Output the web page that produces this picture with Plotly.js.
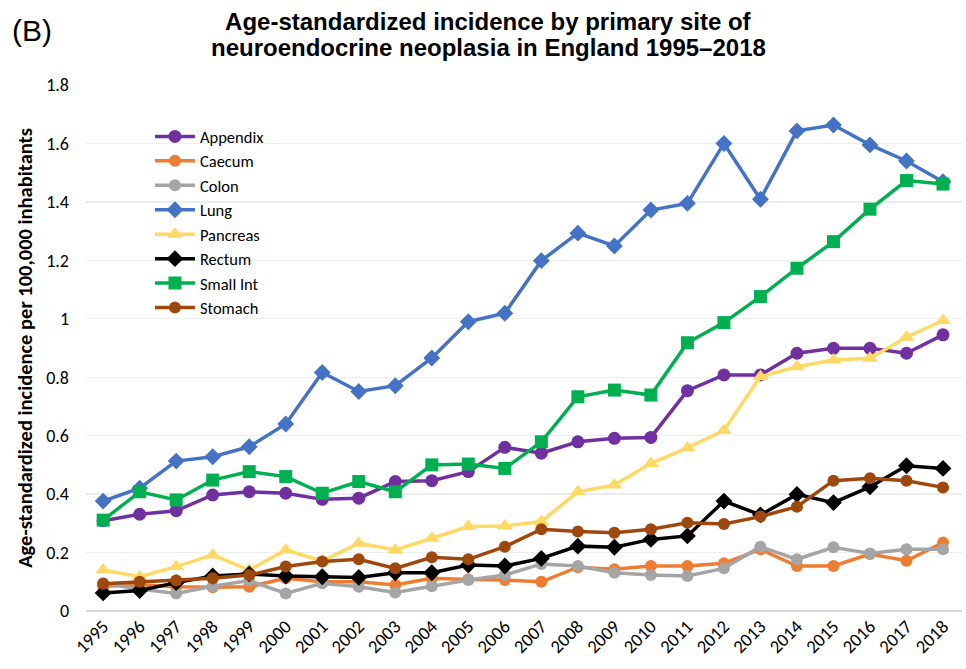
<!DOCTYPE html>
<html>
<head>
<meta charset="utf-8">
<script src="https://cdn.plot.ly/plotly-3.0.1.min.js"></script>
<style>html,body{margin:0;padding:0;background:#fff;}#chart{width:966px;height:669px;}</style>
</head>
<body>
<div id="chart"></div>
<script>
const years = [1995,1996,1997,1998,1999,2000,2001,2002,2003,2004,2005,2006,2007,2008,2009,2010,2011,2012,2013,2014,2015,2016,2017,2018];
const appendix = [0.309,0.331,0.343,0.397,0.408,0.403,0.382,0.386,0.443,0.446,0.477,0.56,0.54,0.579,0.591,0.594,0.754,0.808,0.808,0.882,0.899,0.899,0.882,0.945];
const caecum   = [0.085,0.09,0.083,0.081,0.083,0.112,0.1,0.1,0.089,0.112,0.108,0.106,0.1,0.15,0.143,0.154,0.154,0.163,0.211,0.154,0.154,0.195,0.172,0.234];
const colon    = [0.095,0.075,0.06,0.085,0.104,0.06,0.095,0.083,0.063,0.085,0.106,0.123,0.161,0.154,0.131,0.123,0.12,0.146,0.22,0.177,0.218,0.197,0.211,0.211];
const lung     = [0.376,0.42,0.513,0.528,0.562,0.64,0.816,0.751,0.771,0.866,0.99,1.019,1.199,1.293,1.249,1.372,1.395,1.6,1.409,1.643,1.663,1.595,1.54,1.469];
const pancreas = [0.14,0.117,0.152,0.192,0.14,0.209,0.171,0.232,0.209,0.249,0.289,0.291,0.306,0.408,0.431,0.505,0.558,0.618,0.802,0.836,0.859,0.865,0.937,0.994];
const rectum   = [0.062,0.07,0.097,0.12,0.127,0.12,0.117,0.115,0.131,0.131,0.157,0.154,0.18,0.222,0.218,0.245,0.257,0.376,0.329,0.399,0.371,0.425,0.497,0.488];
const smallInt = [0.311,0.408,0.38,0.448,0.477,0.46,0.403,0.443,0.408,0.5,0.503,0.488,0.579,0.733,0.756,0.739,0.918,0.987,1.076,1.173,1.264,1.375,1.473,1.461];
const stomach  = [0.093,0.1,0.104,0.112,0.123,0.152,0.169,0.177,0.146,0.184,0.177,0.22,0.28,0.272,0.268,0.28,0.302,0.298,0.323,0.357,0.446,0.454,0.446,0.423];

const names   = ['Appendix','Caecum','Colon','Lung','Pancreas','Rectum','Small Int','Stomach'];
const series  = [appendix, caecum, colon, lung, pancreas, rectum, smallInt, stomach];
const colors  = ['#7030A0','#ED7D31','#A5A5A5','#4472C4','#FFD966','#000000','#00B050','#9E480E'];
const symbols = ['circle','circle','circle','diamond','triangle-up','diamond','square','circle'];
const sizes   = [13,12,12,13,14,13,13,12];

const titleLine1 = 'Age-standardized incidence by primary site of';
const titleLine2 = 'neuroendocrine neoplasia in England 1995–2018';

const traces = names.map((n,i)=>({
  x: years, y: series[i], name: n, type: 'scatter', mode: 'lines+markers',
  line: {color: colors[i], width: 3.5},
  marker: {color: colors[i], symbol: symbols[i], size: sizes[i], line: {width: 0}}
}));

const font = 'Carlito, Lato, "Open Sans", sans-serif';
const titleFont = {family: '"Liberation Sans", Arial, sans-serif', size: 24, color: '#000'};
const layout = {
  width: 966, height: 669,
  margin: {l: 86, r: 4, t: 85, b: 58},
  paper_bgcolor: '#fff', plot_bgcolor: '#fff',
  title: {
    text: '<b>' + titleLine1 + '</b>',
    font: titleFont,
    x: 0.505, xanchor: 'center', y: 0.967, yanchor: 'middle'
  },
  showlegend: true,
  legend: {
    x: 0.073, y: 0.935, xanchor: 'left', yanchor: 'top',
    font: {family: font, size: 16.5, color: '#000'},
    bgcolor: 'rgba(255,255,255,0)', tracegroupgap: 0, itemwidth: 40
  },
  xaxis: {
    range: [1994.53, 2018.52], tickmode: 'array', tickvals: years,
    ticktext: years.map(String), tickangle: -45,
    tickfont: {family: font, size: 18.5, color: '#000'},
    showgrid: false, zeroline: false, showline: false, ticks: ''
  },
  yaxis: {
    range: [0, 1.8], dtick: 0.2, tick0: 0,
    tickfont: {family: font, size: 18, color: '#000'},
    gridcolor: '#EDEDED', gridwidth: 1.3,
    zeroline: true, zerolinecolor: '#D9D9D9', zerolinewidth: 1.5,
    showline: false, ticks: '', ticklen: 0, ticklabelstandoff: 16,
    title: {text: '<b>Age-standardized incidence per 100,000 inhabitants</b>',
            font: {family: font, size: 20.5, color: '#000'}, standoff: 8}
  },
  annotations: [{
    text: '<b>' + titleLine2 + '</b>', xref: 'paper', yref: 'paper', x: 0.459, y: 1.0722,
    xanchor: 'center', yanchor: 'middle', showarrow: false, font: titleFont
  }, {
    text: '(B)', xref: 'paper', yref: 'paper', x: -0.0868, y: 1.103,
    xanchor: 'left', yanchor: 'middle', showarrow: false,
    font: {family: '"Liberation Sans", Arial, sans-serif', size: 30, color: '#000'}
  }]
};

Plotly.newPlot('chart', traces, layout, {displayModeBar: false, staticPlot: true});
</script>
</body>
</html>
